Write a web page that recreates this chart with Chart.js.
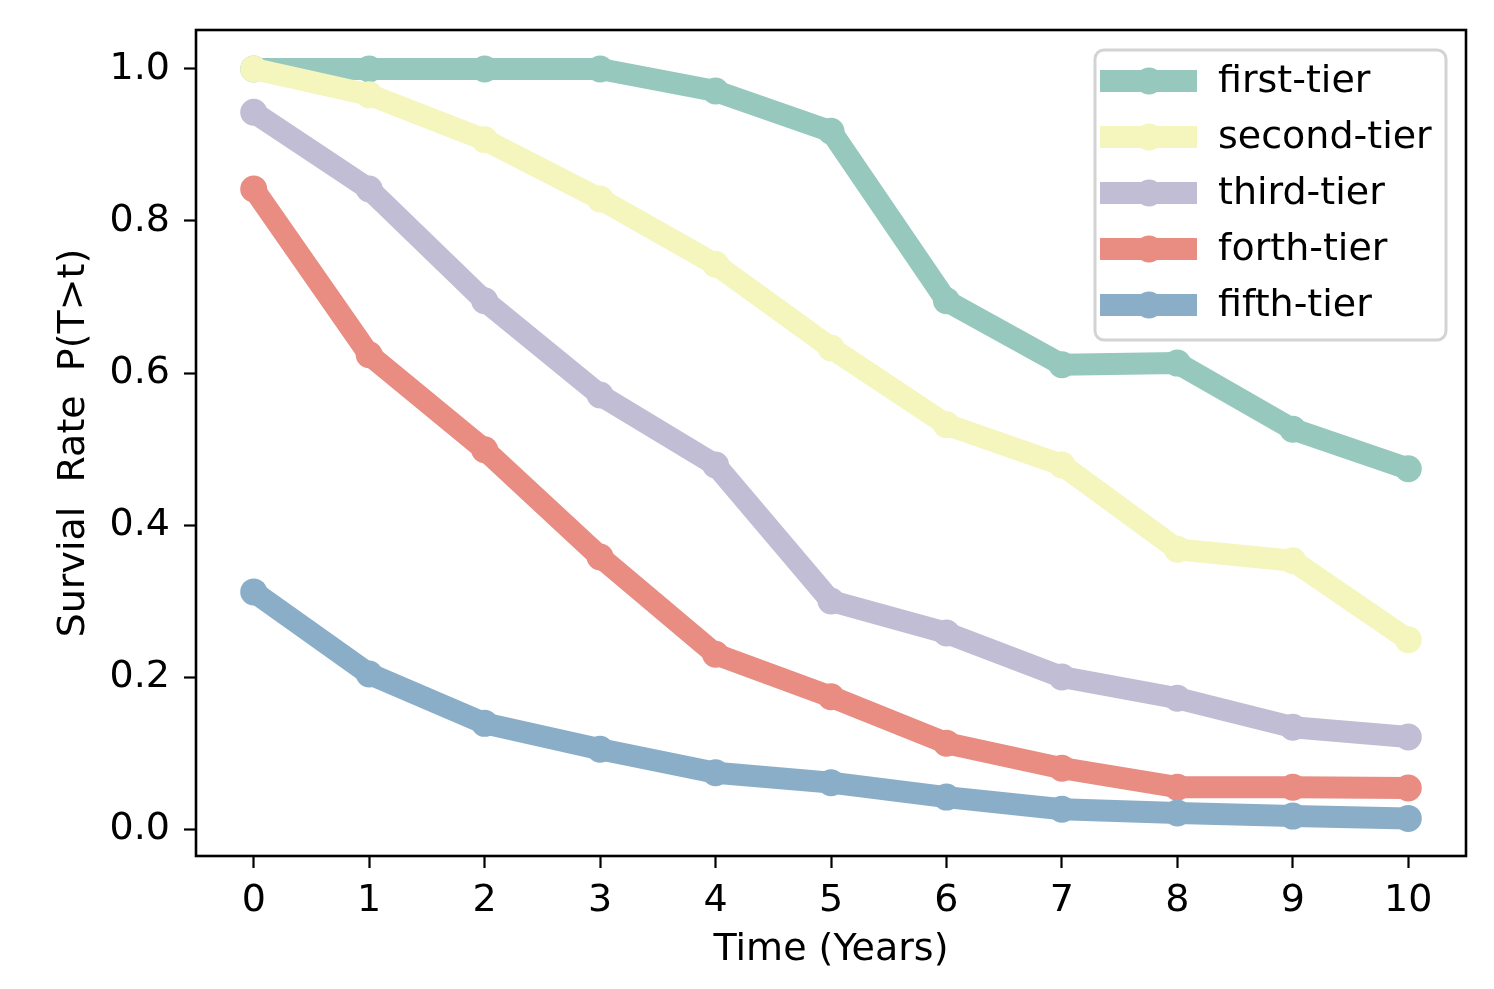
<!DOCTYPE html>
<html>
<head>
<meta charset="utf-8">
<script src="https://cdn.jsdelivr.net/npm/chart.js@4"></script>
<style>
html,body{margin:0;padding:0;background:#fff;}
#wrap{width:1494px;height:989px;}
</style>
</head>
<body>
<div id="wrap"><canvas id="c" width="1494" height="989"></canvas></div>
<script>
const years = [0,1,2,3,4,5,6,7,8,9,10];
const seriesNames = ['first-tier','second-tier','third-tier','forth-tier','fifth-tier'];
const firstTier  = [1.0, 1.0, 1.0, 1.0, 0.971, 0.918, 0.695, 0.611, 0.613, 0.526, 0.474];
const secondTier = [1.0, 0.966, 0.907, 0.829, 0.743, 0.633, 0.532, 0.479, 0.368, 0.353, 0.249];
const thirdTier  = [0.943, 0.842, 0.695, 0.571, 0.479, 0.300, 0.258, 0.200, 0.172, 0.134, 0.121];
const forthTier  = [0.842, 0.624, 0.499, 0.358, 0.230, 0.174, 0.113, 0.080, 0.055, 0.055, 0.054];
const fifthTier  = [0.312, 0.204, 0.139, 0.105, 0.074, 0.061, 0.042, 0.026, 0.021, 0.017, 0.014];
const xTicks = [0,1,2,3,4,5,6,7,8,9,10];
const yTicks = [0.0,0.2,0.4,0.6,0.8,1.0];
const colors = ['#96c8be','#f5f5be','#c1bdd4','#e98c82','#8aaec8'];

const allSeries = [firstTier, secondTier, thirdTier, forthTier, fifthTier];
const FONT = '"DejaVu Sans", sans-serif';
const FS = 38;

const datasets = allSeries.map((vals, i) => ({
  label: seriesNames[i],
  data: years.map((x, j) => ({x: x, y: vals[j]})),
  borderColor: colors[i],
  backgroundColor: colors[i],
  borderWidth: 22,
  pointRadius: 13.5,
  pointBorderWidth: 0,
  pointHoverRadius: 13.5,
  pointBackgroundColor: colors[i],
  tension: 0,
  fill: false,
  clip: false,
  order: 5 - i,
  borderCapStyle: 'butt',
  borderJoinStyle: 'round'
}));

const boxPlugin = {
  id: 'boxPlugin',
  afterDraw(chart) {
    const {ctx, chartArea: a} = chart;
    ctx.save();
    ctx.strokeStyle = '#000';
    ctx.lineWidth = 2.6;
    ctx.strokeRect(a.left, a.top, a.right - a.left, a.bottom - a.top);
    // legend
    const lx = 1095, ly = 50, lw = 351, lh = 290, r = 9;
    ctx.beginPath();
    ctx.moveTo(lx + r, ly);
    ctx.arcTo(lx + lw, ly, lx + lw, ly + lh, r);
    ctx.arcTo(lx + lw, ly + lh, lx, ly + lh, r);
    ctx.arcTo(lx, ly + lh, lx, ly, r);
    ctx.arcTo(lx, ly, lx + lw, ly, r);
    ctx.closePath();
    ctx.fillStyle = 'rgba(255,255,255,0.8)';
    ctx.fill();
    ctx.strokeStyle = '#d3d3d3';
    ctx.lineWidth = 3;
    ctx.stroke();
    chart.data.datasets.forEach((ds, i) => {
      const y = 81 + 56 * i;
      ctx.strokeStyle = ds.borderColor;
      ctx.lineWidth = 22;
      ctx.lineCap = 'butt';
      ctx.beginPath();
      ctx.moveTo(1100, y);
      ctx.lineTo(1197, y);
      ctx.stroke();
      ctx.fillStyle = ds.borderColor;
      ctx.beginPath();
      ctx.arc(1149, y, 13.5, 0, Math.PI * 2);
      ctx.fill();
      ctx.fillStyle = '#000';
      ctx.font = FS + 'px ' + FONT;
      ctx.textBaseline = 'middle';
      ctx.textAlign = 'left';
      ctx.fillText(ds.label, 1218, y + 1);
    });
    ctx.restore();
  }
};

new Chart(document.getElementById('c'), {
  type: 'line',
  data: { datasets: datasets },
  options: {
    responsive: false,
    animation: false,
    devicePixelRatio: 1,
    layout: { padding: { top: 30, right: 28, left: 0, bottom: 0 } },
    plugins: { legend: { display: false }, tooltip: { enabled: false } },
    events: [],
    scales: {
      x: {
        type: 'linear',
        min: -0.5,
        max: 10.5,
        afterBuildTicks(scale) { scale.ticks = xTicks.map(v => ({value: v})); },
        afterFit(scale) { scale.height = 133; scale.paddingLeft = 0; scale.paddingRight = 0; },
        grid: { display: true, drawOnChartArea: false, drawTicks: true, tickLength: 12, tickWidth: 2.2, tickColor: '#000' },
        border: { display: false },
        ticks: { color: '#000', font: { family: FONT, size: FS }, padding: 10, maxRotation: 0, autoSkip: false,
                 callback: v => String(v) },
        title: { display: true, text: 'Time (Years)', color: '#000', font: { family: FONT, size: FS }, padding: { top: 0, bottom: 16 } }
      },
      y: {
        type: 'linear',
        min: -0.0355,
        max: 1.0513,
        afterBuildTicks(scale) { scale.ticks = yTicks.map(v => ({value: v})); },
        afterFit(scale) { scale.width = 196; scale.paddingTop = 0; scale.paddingBottom = 0; },
        grid: { display: true, drawOnChartArea: false, drawTicks: true, tickLength: 12, tickWidth: 2.2, tickColor: '#000' },
        border: { display: false },
        ticks: { color: '#000', font: { family: FONT, size: FS }, padding: 14, autoSkip: false,
                 callback: v => Number(v).toFixed(1) },
        title: { display: true, text: 'Survial  Rate  P(T>t)', color: '#000', font: { family: FONT, size: FS }, padding: { top: 51, bottom: 0 } }
      }
    }
  },
  plugins: [boxPlugin]
});
</script>
</body>
</html>
